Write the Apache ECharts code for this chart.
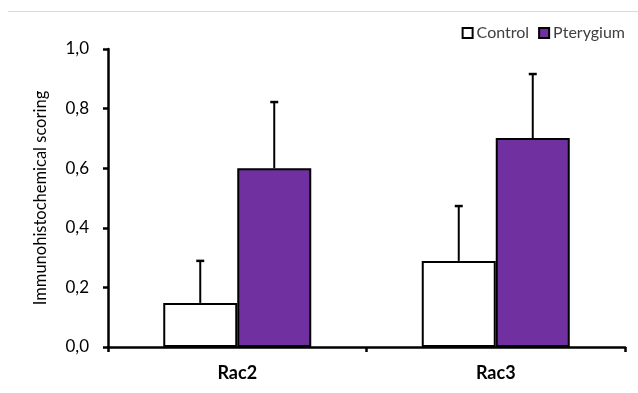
<!DOCTYPE html>
<html><head><meta charset="utf-8">
<script src="https://cdn.jsdelivr.net/npm/echarts@6/dist/echarts.min.js"></script>
<style>html,body{margin:0;padding:0;background:#fff}#c{width:638px;height:393px}</style>
</head><body><div id="c"></div>
<script>
var categories = ['Rac2', 'Rac3'];
var controlMean = [0.148, 0.289];
var controlErrTop = [0.289, 0.473];
var pterygiumMean = [0.600, 0.701];
var pterygiumErrTop = [0.822, 0.916];
var yTicks = [0, 0.2, 0.4, 0.6, 0.8, 1.0];

var FONT = 'Lato';
var BAR_W = 74;
var chart = echarts.init(document.getElementById('c'));

function errSeries(name, tops, means, sign) {
  return {
    type: 'custom', name: name + ' err', silent: true, z: 1,
    data: tops.map(function (t, i) { return [i, means[i], t]; }),
    renderItem: function (params, api) {
      var base = api.coord([api.value(0), api.value(1)]);
      var top = api.coord([api.value(0), api.value(2)]);
      var x = base[0] + sign * BAR_W / 2;
      return { type: 'group', children: [
        { type: 'line', shape: { x1: x, y1: base[1], x2: x, y2: top[1] }, style: { stroke: '#000', lineWidth: 2 } },
        { type: 'line', shape: { x1: x - 4, y1: top[1], x2: x + 4, y2: top[1] }, style: { stroke: '#000', lineWidth: 2.5 } }
      ]};
    }
  };
}

chart.setOption({
  animation: false,
  textStyle: { fontFamily: FONT },
  grid: { left: 108, right: 13, top: 49, bottom: 46 },
  graphic: [{ type: 'line', shape: { x1: 8, y1: 11.5, x2: 638, y2: 11.5 }, style: { stroke: '#d9d9d9', lineWidth: 1 } }],
  legend: {
    right: 8, top: 20, itemWidth: 10, itemHeight: 10, itemGap: 9,
    textStyle: { fontFamily: FONT, fontSize: 16, color: '#404040', padding: [0, 0, 0, -1] },
    data: [
      { name: 'Control', icon: 'rect', itemStyle: { color: '#fff', borderColor: '#000', borderWidth: 2 } },
      { name: 'Pterygium', icon: 'rect', itemStyle: { color: '#7030A0', borderColor: '#000', borderWidth: 2 } }
    ]
  },
  xAxis: {
    type: 'category', data: categories,
    axisLine: { lineStyle: { color: '#000', width: 2.5 } },
    axisTick: { show: true, length: 5, lineStyle: { color: '#000', width: 2.5 } },
    axisLabel: { fontFamily: FONT, fontSize: 18, fontWeight: 'bold', color: '#000', margin: 17 }
  },
  yAxis: {
    type: 'value', min: 0, max: 1, interval: 0.2,
    name: 'Immunohistochemical scoring', nameLocation: 'middle', nameGap: 59,
    nameTextStyle: { fontFamily: FONT, fontSize: 16.5, color: '#000' },
    splitLine: { show: false },
    axisLine: { show: true, lineStyle: { color: '#000', width: 2.5 } },
    axisTick: { show: true, length: 5, lineStyle: { color: '#000', width: 2.5 } },
    axisLabel: { fontFamily: FONT, fontSize: 17, color: '#000', margin: 19,
      formatter: function (v) { return v.toFixed(1).replace('.', ','); } }
  },
  series: [
    errSeries('Control', controlErrTop, controlMean, -1),
    errSeries('Pterygium', pterygiumErrTop, pterygiumMean, 1),
    { type: 'bar', name: 'Control', data: controlMean, barWidth: BAR_W, barGap: '0%', z: 2,
      itemStyle: { color: '#fff', borderColor: '#000', borderWidth: 2 } },
    { type: 'bar', name: 'Pterygium', data: pterygiumMean, barWidth: BAR_W, barGap: '0%', z: 2,
      itemStyle: { color: '#7030A0', borderColor: '#000', borderWidth: 2 } }
  ]
});
</script></body></html>
